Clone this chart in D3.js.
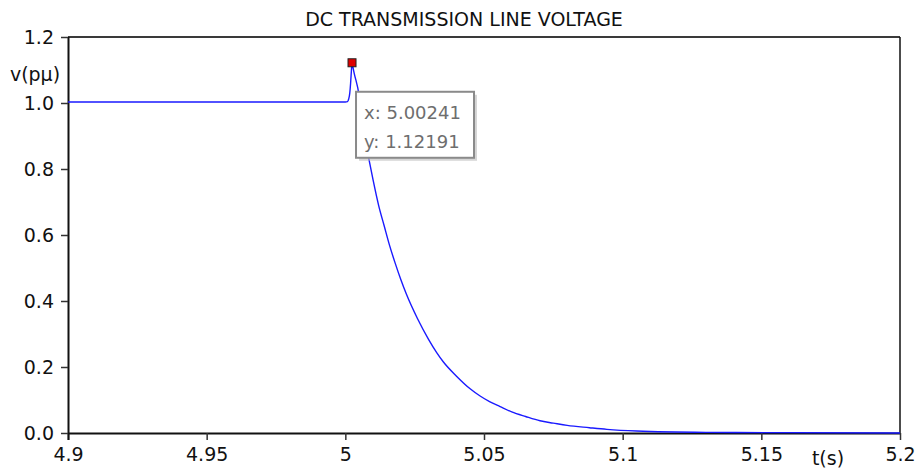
<!DOCTYPE html>
<html>
<head>
<meta charset="utf-8">
<script src="https://cdn.jsdelivr.net/npm/d3@7/dist/d3.min.js"></script>
<style>
  html, body { margin: 0; padding: 0; background: #fff; }
  svg text { font-family: "DejaVu Sans", Tahoma, sans-serif; }
</style>
</head>
<body>
<svg id="chart" width="919" height="473"></svg>
<script>
// DC line voltage (per unit) over time (s)
const timeS = [4.9, 4.95, 4.99, 5.0, 5.0008, 5.0012, 5.0016, 5.0019, 5.0022, 5.00241,
  5.0027, 5.0032, 5.005, 5.006, 5.0085, 5.01, 5.012, 5.014, 5.016, 5.018, 5.02, 5.022,
  5.026, 5.03, 5.033, 5.0353, 5.04, 5.045, 5.0486, 5.052, 5.0558, 5.06, 5.065,
  5.0702, 5.075, 5.08, 5.088, 5.0943, 5.105, 5.13, 5.16, 5.2];
const voltagePu = [1.003, 1.003, 1.003, 1.003, 1.004, 1.012, 1.03, 1.06, 1.10, 1.12191,
  1.11, 1.09, 1.02, 0.94, 0.83, 0.767, 0.69, 0.628, 0.567, 0.514, 0.465, 0.421,
  0.347, 0.284, 0.243, 0.216, 0.173, 0.134, 0.112, 0.095, 0.08, 0.064, 0.05,
  0.037, 0.03, 0.023, 0.016, 0.011, 0.006, 0.002, 0.001, 0.0];
const xTicks = [4.9, 4.95, 5.0, 5.05, 5.1, 5.15, 5.2];
const xTickLabels = ["4.9", "4.95", "5", "5.05", "5.1", "5.15", "5.2"];
const yTicks = [0, 0.2, 0.4, 0.6, 0.8, 1.0, 1.2];
const yTickLabels = ["0.0", "0.2", "0.4", "0.6", "0.8", "1.0", "1.2"];
const marker = { t: 5.00241, v: 1.12191 };

const svg = d3.select("#chart");
const m = { left: 68, right: 900, top: 37, bottom: 433 };
const x = d3.scaleLinear().domain([4.9, 5.2]).range([m.left, m.right]);
const y = d3.scaleLinear().domain([0, 1.2]).range([m.bottom, m.top]);

// frame: top and right edges
svg.append("line").attr("x1", m.left).attr("x2", m.right).attr("y1", m.top).attr("y2", m.top)
  .attr("stroke", "#3a3a3a").attr("stroke-width", 2);
svg.append("line").attr("x1", m.right).attr("x2", m.right).attr("y1", m.top).attr("y2", m.bottom)
  .attr("stroke", "#111").attr("stroke-width", 1.5);

// title
svg.append("text").attr("x", 464).attr("y", 26).attr("text-anchor", "middle")
  .style("font-size", "19px").attr("fill", "#111").text("DC TRANSMISSION LINE VOLTAGE");

// axes
const xAxis = d3.axisBottom(x).tickValues(xTicks).tickSize(7).tickPadding(8)
  .tickFormat((d, i) => xTickLabels[i]);
const yAxis = d3.axisLeft(y).tickValues(yTicks).tickSize(7).tickPadding(7)
  .tickFormat((d, i) => yTickLabels[i]);

const gx = svg.append("g").attr("transform", `translate(0,${m.bottom})`).call(xAxis);
const gy = svg.append("g").attr("transform", `translate(${m.left},0)`).call(yAxis);
[gx, gy].forEach(g => {
  g.attr("font-size", null).attr("font-family", null);
  g.select(".domain").attr("stroke", "#111").attr("stroke-width", 2);
  g.selectAll(".tick line").attr("stroke", "#333").attr("stroke-width", 1.5);
  g.selectAll(".tick text").style("font-size", "19px").attr("fill", "#111");
});
gx.select(".domain").attr("d", `M${m.left},0.5H${m.right}`);
gy.select(".domain").attr("d", `M0.5,${m.top}V${m.bottom + 7}`);

// axis titles
svg.append("text").attr("x", 35).attr("y", 81).attr("text-anchor", "middle")
  .style("font-size", "19px").attr("fill", "#111").text("v(pμ)");
svg.append("text").attr("x", 828).attr("y", 465).attr("text-anchor", "middle")
  .style("font-size", "19px").attr("fill", "#111").text("t(s)");

// voltage trace
const pts = timeS.map((t, i) => [t, voltagePu[i]]);
const line = d3.line().x(d => x(d[0])).y(d => y(d[1])).curve(d3.curveMonotoneX);
svg.append("path").datum(pts).attr("d", line)
  .attr("fill", "none").attr("stroke", "#1a1aff").attr("stroke-width", 1.4);

// selected point marker
const mx = x(marker.t), my = y(marker.v);
svg.append("rect").attr("x", mx - 4).attr("y", my - 4).attr("width", 8).attr("height", 8)
  .attr("fill", "#e00000").attr("stroke", "#222").attr("stroke-width", 1);

// readout box
const bx = mx + 4, by = my + 29, bw = 118, bh = 66;
svg.append("rect").attr("x", bx + 3).attr("y", by + 3).attr("width", bw).attr("height", bh)
  .attr("fill", "#bbb").attr("opacity", 0.6);
svg.append("rect").attr("x", bx).attr("y", by).attr("width", bw).attr("height", bh)
  .attr("fill", "#fff").attr("stroke", "#8a8a8a").attr("stroke-width", 2);
svg.append("text").attr("x", bx + 8).attr("y", by + 27).style("font-size", "18px")
  .attr("fill", "#6e6e6e").text(`x: ${marker.t}`);
svg.append("text").attr("x", bx + 8).attr("y", by + 56).style("font-size", "18px")
  .attr("fill", "#6e6e6e").text(`y: ${marker.v}`);
</script>
</body>
</html>
